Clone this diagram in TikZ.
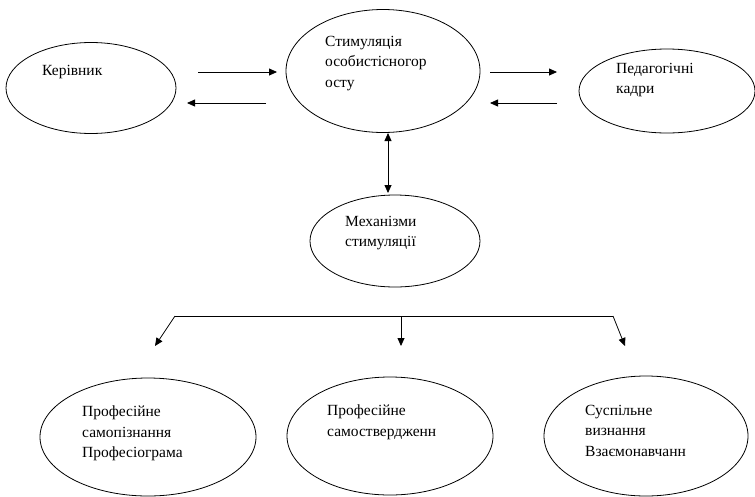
\documentclass[tikz,border=0pt]{standalone}
\usepackage{fontspec}
\setmainfont{Liberation Serif}
\newfontfamily\lblfont{Liberation Serif}
\usetikzlibrary{shapes.geometric,arrows.meta}
\begin{document}
\begin{tikzpicture}[x=1pt,y=-1pt,
  oval/.style={draw=black,line width=0.8pt,ellipse,inner sep=0pt},
  lbl/.style={anchor=north west,inner sep=0pt,align=left,font=\lblfont\fontsize{15.5}{20.5}\selectfont},
  conn/.style={line width=0.8pt,-{Triangle[length=8pt,width=7pt]}},
  dconn/.style={line width=0.8pt,{Triangle[length=8pt,width=7pt]}-{Triangle[length=8pt,width=7pt]}},
  plain/.style={line width=0.8pt}]
\useasboundingbox (0,0) rectangle (755,496);
\clip (0,0) rectangle (755,496);
% ovals
\node[oval,minimum width=170pt,minimum height=91pt] (ker) at (91,88) {};
\node[oval,minimum width=194pt,minimum height=123pt] (stim) at (383,71) {};
\node[oval,minimum width=176pt,minimum height=84pt] (ped) at (667,91) {};
\node[oval,minimum width=170pt,minimum height=92pt] (mech) at (395,241) {};
\node[oval,minimum width=216pt,minimum height=118pt] (b1) at (148,437) {};
\node[oval,minimum width=206pt,minimum height=118pt] (b2) at (390,436) {};
\node[oval,minimum width=204pt,minimum height=120pt] (b3) at (646,436) {};
% labels
\node[lbl] (tker) at (42,65) {Керівник};
\node[lbl] (tstim) at (325,36) {Стимуляція\\особистісногор\\осту};
\node[lbl] (tped) at (616,63) {Педагогічні\\кадри};
\node[lbl] (tmech) at (345,216) {Механізми\\стимуляції};
\node[lbl] (tb1) at (82,406) {Професійне\\самопізнання\\Професіограма};
\node[lbl] (tb2) at (327,405) {Професійне\\самоствердженн};
\node[lbl] (tb3) at (585,405) {Суспільне\\визнання\\Взаємонавчанн};
% free ends of connectors
\coordinate (a1s) at (198,72); \coordinate (a1e) at (277,72);
\coordinate (a2s) at (266,103); \coordinate (a2e) at (187,103);
\coordinate (a3s) at (490,72); \coordinate (a3e) at (557,72);
\coordinate (a4s) at (557,103); \coordinate (a4e) at (490,103);
\coordinate (vt) at (388,133); \coordinate (vb) at (388,193);
\coordinate (hl) at (175,316); \coordinate (hm) at (401,316); \coordinate (hr) at (613,316);
\coordinate (el) at (155,346); \coordinate (em) at (401,346); \coordinate (er) at (625,346);
% connectors
\draw[conn] (a1s) -- (a1e);
\draw[conn] (a2s) -- (a2e);
\draw[conn] (a3s) -- (a3e);
\draw[conn] (a4s) -- (a4e);
\draw[dconn] (vt) -- (vb);
\draw[plain] (hl) -- (hr);
\draw[conn] (hl) -- (el);
\draw[conn] (hm) -- (em);
\draw[conn] (hr) -- (er);
\end{tikzpicture}
\end{document}
